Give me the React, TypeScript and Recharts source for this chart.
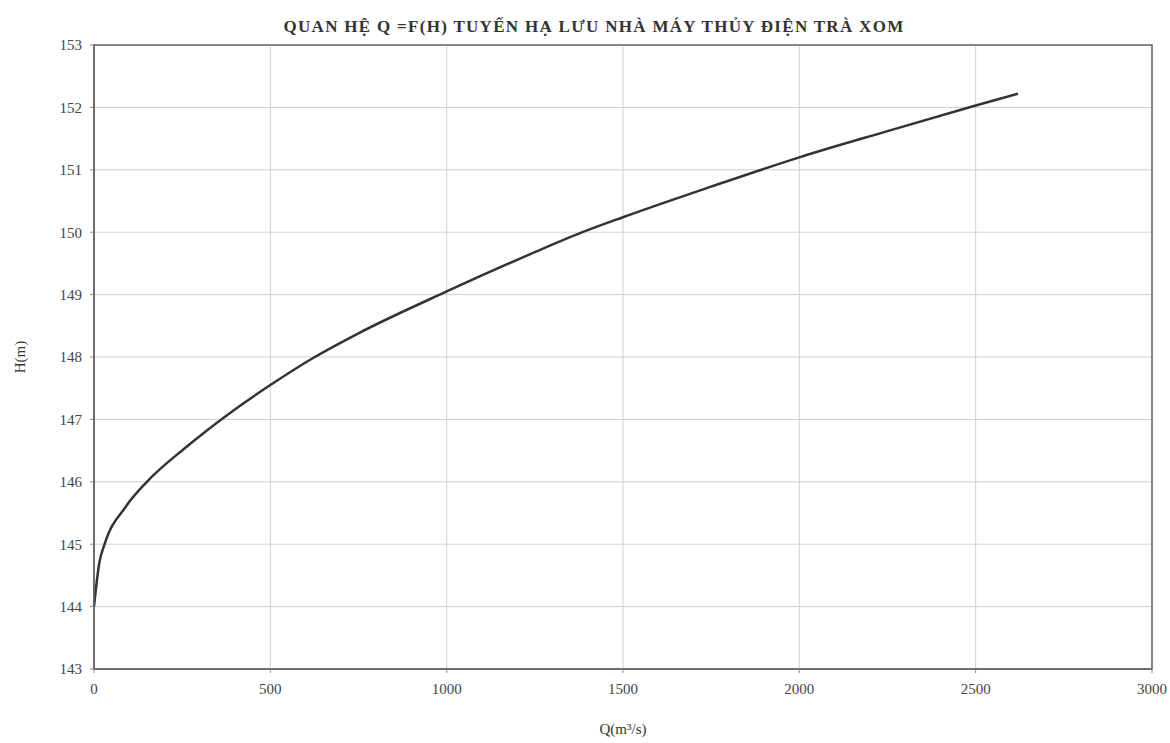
import React from 'react';
import { LineChart, Line, XAxis, YAxis, CartesianGrid, ReferenceArea, Label } from 'recharts';

// Q (m3/s) vs H (m)
const discharge = [0, 15, 30, 90, 150, 260, 380, 500, 620, 750, 1000, 1250, 1385, 1500, 1750, 2000, 2250, 2500, 2620];
const stage = [144.0, 144.7, 145.0, 145.6, 146.0, 146.55, 147.08, 147.55, 147.98, 148.38, 149.05, 149.68, 150.0, 150.24, 150.73, 151.2, 151.62, 152.03, 152.22];

const xTicks = [0, 500, 1000, 1500, 2000, 2500, 3000];
const yTicks = [143, 144, 145, 146, 147, 148, 149, 150, 151, 152, 153];

const data = discharge.map((q, i) => ({ q, h: stage[i] }));

const serif = '"Liberation Serif", "DejaVu Serif", serif';
const tickStyle = { fill: '#444', fontSize: 15, fontFamily: serif };

const App: React.FC = () => {
  return (
    <div style={{ position: 'absolute', left: 0, top: 0, width: 1170, height: 743, background: '#fff' }}>
      <div
        style={{
          position: 'absolute',
          top: 17,
          left: 0,
          width: 1188,
          textAlign: 'center',
          fontFamily: serif,
          fontWeight: 'bold',
          fontSize: 17,
          letterSpacing: 1.3,
          color: '#333',
        }}
      >
        QUAN HỆ Q =F(H) TUYẾN HẠ LƯU NHÀ MÁY THỦY ĐIỆN TRÀ XOM
      </div>
      <LineChart width={1170} height={743} data={data} margin={{ top: 45, right: 18, bottom: 44, left: 44 }}>
        <CartesianGrid stroke="#cfcfcf" strokeWidth={1} />
        <XAxis
          dataKey="q"
          type="number"
          domain={[0, 3000]}
          ticks={xTicks}
          height={30}
          tick={tickStyle}
          tickLine={{ stroke: '#888' }}
          tickSize={4}
          tickMargin={10}
          axisLine={{ stroke: '#666', strokeWidth: 1.5 }}
        >
          <Label
            value="Q(m³/s)"
            position="bottom"
            offset={24}
            style={{ fill: '#333', fontSize: 15, fontFamily: serif }}
          />
        </XAxis>
        <YAxis
          type="number"
          domain={[143, 153]}
          ticks={yTicks}
          width={50}
          tick={tickStyle}
          tickLine={{ stroke: '#888' }}
          tickSize={4}
          tickMargin={8}
          axisLine={{ stroke: '#666', strokeWidth: 1.5 }}
        >
          <Label
            value="H(m)"
            angle={-90}
            position="left"
            offset={24}
            style={{ fill: '#333', fontSize: 15, fontFamily: serif, textAnchor: 'middle' }}
          />
        </YAxis>
        <ReferenceArea x1={0} x2={3000} y1={143} y2={153} fill="none" stroke="#666" strokeWidth={1.5} />
        <Line
          dataKey="h"
          type="monotone"
          stroke="#333"
          strokeWidth={2.5}
          dot={false}
          isAnimationActive={false}
        />
      </LineChart>
    </div>
  );
};

export default App;
